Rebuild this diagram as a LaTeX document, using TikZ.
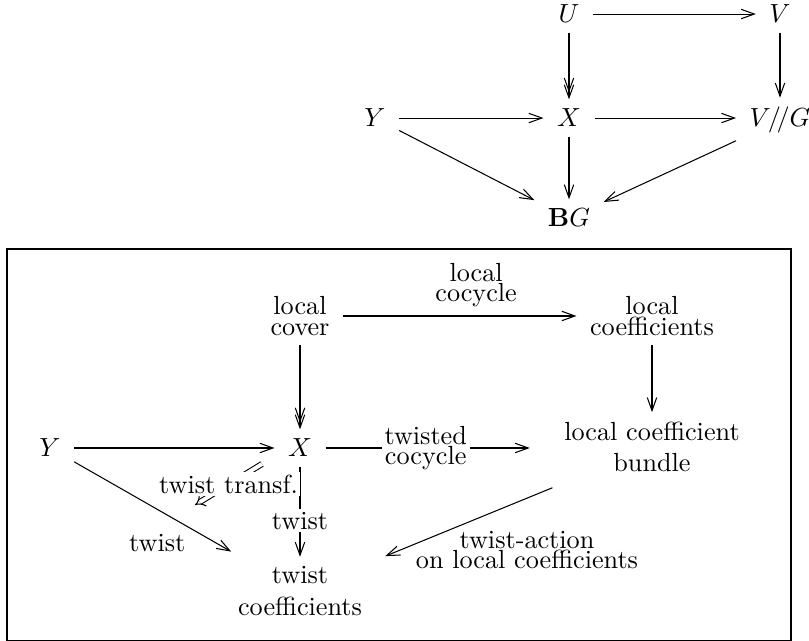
\documentclass[tikz,border=0pt]{standalone}
\usetikzlibrary{arrows.meta}
\begin{document}
\begin{tikzpicture}[x=0.3817pt,y=-0.3817pt,
  obj/.style={inner xsep=5pt, inner ysep=3.5pt},
  ar/.style={-{Straight Barb[length=5pt,width=3.6pt]}},
  artwo/.style={-{Straight Barb[length=5pt,width=3.6pt,sep=-3.2pt]Straight Barb[length=5pt,width=3.6pt]}},
  desc/.style={fill=white, inner sep=1pt},
  dbl/.style={double, double distance=1.5pt, -{Implies[scale=2]}}]
\useasboundingbox (0,0) rectangle (809,641);
\draw (7,249) rectangle (791,640.5);
% top diagram
\node[obj, anchor=base] (U) at (569,23) {$U$};
\node[obj, anchor=base] (V) at (780,23) {$V$};
\node[obj, anchor=base] (Y1) at (375,127) {$Y$};
\node[obj, anchor=base] (X1) at (569,127) {$X$};
\node[obj, anchor=base] (VG) at (780,127) {$V/\!/G$};
\node[obj, anchor=base] (BG) at (569,227) {$\mathbf{B}G$};
\draw[ar] (U) -- (V);
\draw[artwo] (U) -- (X1);
\draw[ar] (V) -- (VG);
\draw[ar] (Y1) -- (X1);
\draw[ar] (X1) -- (X1 -| VG.west);
\draw[ar] (X1) -- (BG);
\draw[ar] (Y1) -- (BG);
\draw[ar] (VG) -- (BG);
% bottom diagram
\node[obj, align=center] (lc) at (300,316) {local\\[-4.3pt]cover};
\node[obj, align=center] (lcoef) at (652,316) {local\\[-4.3pt]coefficients};
\node[obj, align=center] (bun) at (652,447) {local coefficient\\bundle};
\node[obj] (X) at (300,448) {$X$};
\node[obj] (Y) at (50,448) {$Y$};
\node[obj, align=center] (tc) at (300,591) {twist\\coefficients};
\draw[ar] (lc) -- node[pos=0.57, above, align=center] {local\\[-4.3pt]cocycle} (lcoef);
\draw[ar] (lcoef) -- (bun);
\draw[artwo] (lc) -- (X);
\draw[ar] (Y) -- (X);
\draw[ar, shorten >=8pt] (X) -- node[desc, pos=0.445, align=center] {twisted\\[-4.3pt]cocycle} (X -| bun.west);
\draw[ar] (X) -- node[desc, pos=0.6] {twist} (tc);
\draw[ar, shorten >=4pt] (Y) -- node[pos=0.5, below=6pt] {twist} (tc);
\draw[ar, shorten <=6pt, shorten >=4pt] (bun) -- (tc);
\node[align=center] (talab) at (527,550) {twist-action\\[-4.3pt]on local coefficients};
\coordinate (t1) at (262,464);
\coordinate (t2) at (195,505);
\draw[dbl] (t1) -- node[desc] {twist transf.} (t2);
\end{tikzpicture}
\end{document}
